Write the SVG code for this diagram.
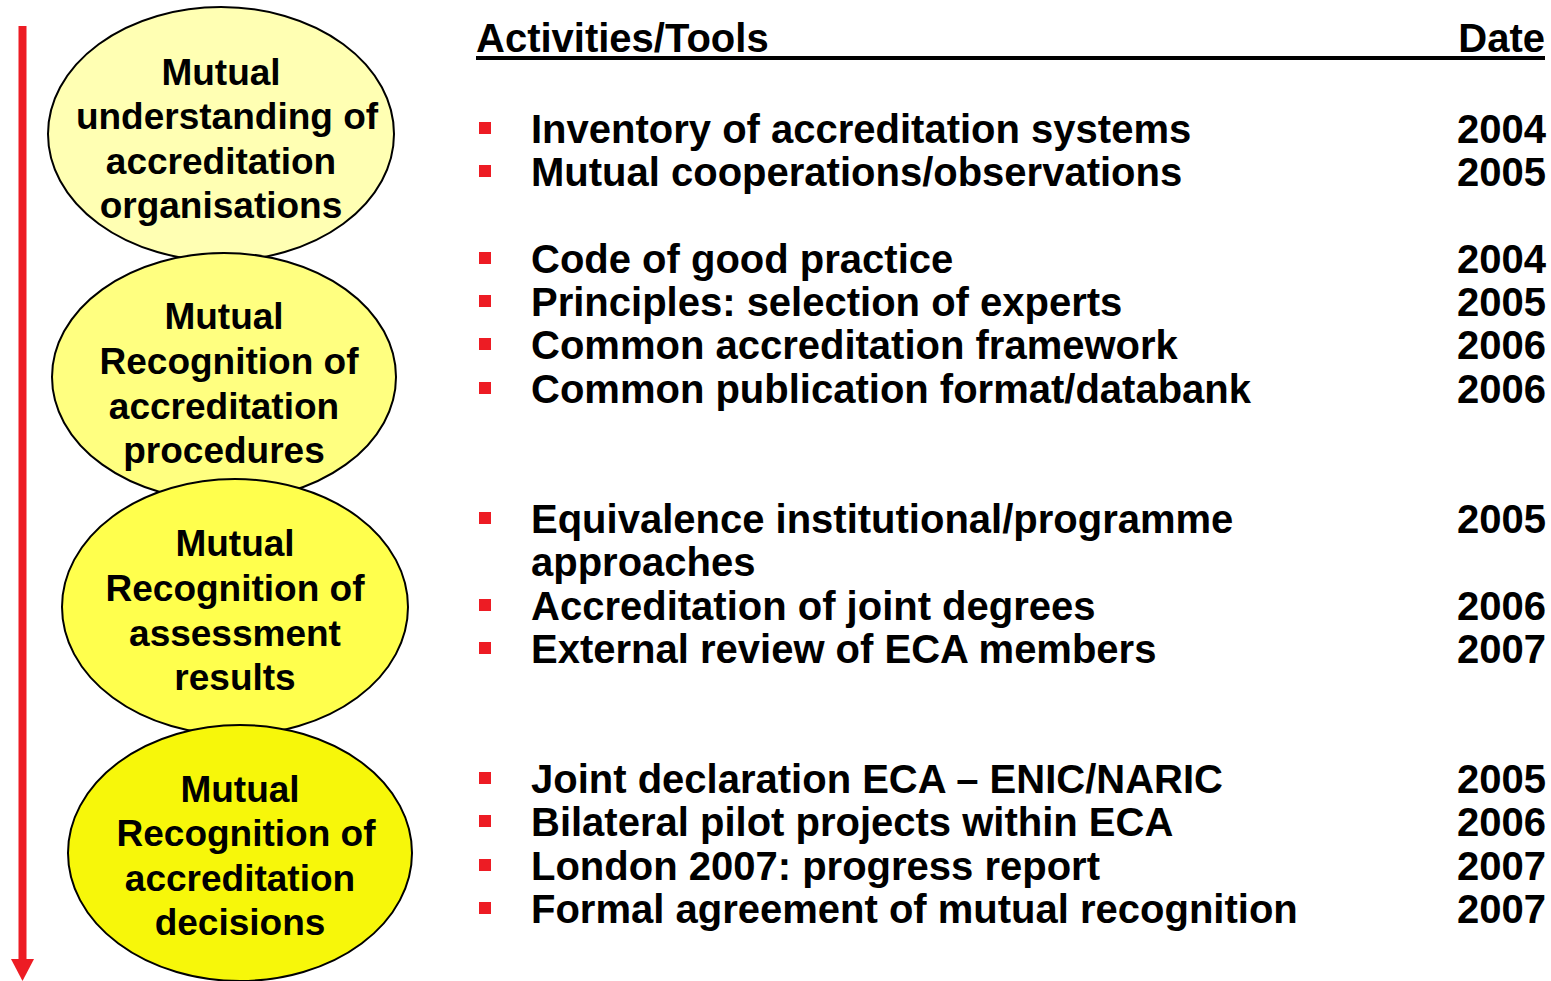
<svg xmlns="http://www.w3.org/2000/svg" width="1551" height="981" viewBox="0 0 1551 981">
<style>
.el{stroke:#000;stroke-width:2}
.et{font-family:"Liberation Sans",Arial,sans-serif;font-weight:bold;font-size:37px;text-anchor:middle;fill:#000}
.t{font-family:"Liberation Sans",Arial,sans-serif;font-weight:bold;font-size:40px;fill:#000}
.d{font-family:"Liberation Sans",Arial,sans-serif;font-weight:bold;font-size:40px;fill:#000;text-anchor:end}
.b{fill:#ED1C24}
</style>
<rect width="1551" height="981" fill="#fff"/>
<g id="connectors">
<line x1="22.5" y1="26" x2="22.5" y2="962" stroke="#ED1C24" stroke-width="8"/>
<polygon points="11,959 34,959 22.5,981" fill="#ED1C24"/>
</g>
<g id="node1">
<ellipse class="el" cx="221" cy="134" rx="173" ry="127" fill="#FFFFB3"/>
<text class="et" x="221" y="85">Mutual</text>
<text class="et" x="227" y="129">understanding of</text>
<text class="et" x="221" y="174">accreditation</text>
<text class="et" x="221" y="218">organisations</text>
</g>
<g id="node2">
<ellipse class="el" cx="224" cy="377" rx="172" ry="124" fill="#FFFF80"/>
<text class="et" x="224" y="329">Mutual</text>
<text class="et" x="229" y="374">Recognition of</text>
<text class="et" x="224" y="419">accreditation</text>
<text class="et" x="224" y="463">procedures</text>
</g>
<g id="node3">
<ellipse class="el" cx="235" cy="607" rx="173" ry="128" fill="#FFFF4D"/>
<text class="et" x="235" y="556">Mutual</text>
<text class="et" x="235" y="601">Recognition of</text>
<text class="et" x="235" y="646">assessment</text>
<text class="et" x="235" y="690">results</text>
</g>
<g id="node4">
<ellipse class="el" cx="240" cy="853" rx="172" ry="128" fill="#F7F70A"/>
<text class="et" x="240" y="802">Mutual</text>
<text class="et" x="246" y="846">Recognition of</text>
<text class="et" x="240" y="891">accreditation</text>
<text class="et" x="240" y="935">decisions</text>
</g>
<g id="table">
<text class="t" x="476" y="52">Activities/Tools</text>
<text class="d" x="1545" y="52">Date</text>
<line x1="476" y1="58" x2="1545" y2="58" stroke="#000" stroke-width="4"/>
<g id="bullets">
<rect class="b" x="479" y="122" width="12" height="12"/>
<rect class="b" x="479" y="165" width="12" height="12"/>
<rect class="b" x="479" y="252" width="12" height="12"/>
<rect class="b" x="479" y="295" width="12" height="12"/>
<rect class="b" x="479" y="338" width="12" height="12"/>
<rect class="b" x="479" y="382" width="12" height="12"/>
<rect class="b" x="479" y="512" width="12" height="12"/>
<rect class="b" x="479" y="599" width="12" height="12"/>
<rect class="b" x="479" y="642" width="12" height="12"/>
<rect class="b" x="479" y="772" width="12" height="12"/>
<rect class="b" x="479" y="815" width="12" height="12"/>
<rect class="b" x="479" y="859" width="12" height="12"/>
<rect class="b" x="479" y="902" width="12" height="12"/>
</g>
<text class="t" x="531" y="143">Inventory of accreditation systems</text>
<text class="d" x="1546" y="143">2004</text>
<text class="t" x="531" y="186">Mutual cooperations/observations</text>
<text class="d" x="1546" y="186">2005</text>
<text class="t" x="531" y="273">Code of good practice</text>
<text class="d" x="1546" y="273">2004</text>
<text class="t" x="531" y="316">Principles: selection of experts</text>
<text class="d" x="1546" y="316">2005</text>
<text class="t" x="531" y="359">Common accreditation framework</text>
<text class="d" x="1546" y="359">2006</text>
<text class="t" x="531" y="403">Common publication format/databank</text>
<text class="d" x="1546" y="403">2006</text>
<text class="t" x="531" y="533">Equivalence institutional/programme</text>
<text class="d" x="1546" y="533">2005</text>
<text class="t" x="531" y="576">approaches</text>
<text class="t" x="531" y="620">Accreditation of joint degrees</text>
<text class="d" x="1546" y="620">2006</text>
<text class="t" x="531" y="663">External review of ECA members</text>
<text class="d" x="1546" y="663">2007</text>
<text class="t" x="531" y="793">Joint declaration ECA – ENIC/NARIC</text>
<text class="d" x="1546" y="793">2005</text>
<text class="t" x="531" y="836">Bilateral pilot projects within ECA</text>
<text class="d" x="1546" y="836">2006</text>
<text class="t" x="531" y="880">London 2007: progress report</text>
<text class="d" x="1546" y="880">2007</text>
<text class="t" x="531" y="923">Formal agreement of mutual recognition</text>
<text class="d" x="1546" y="923">2007</text>
</g>
</svg>
